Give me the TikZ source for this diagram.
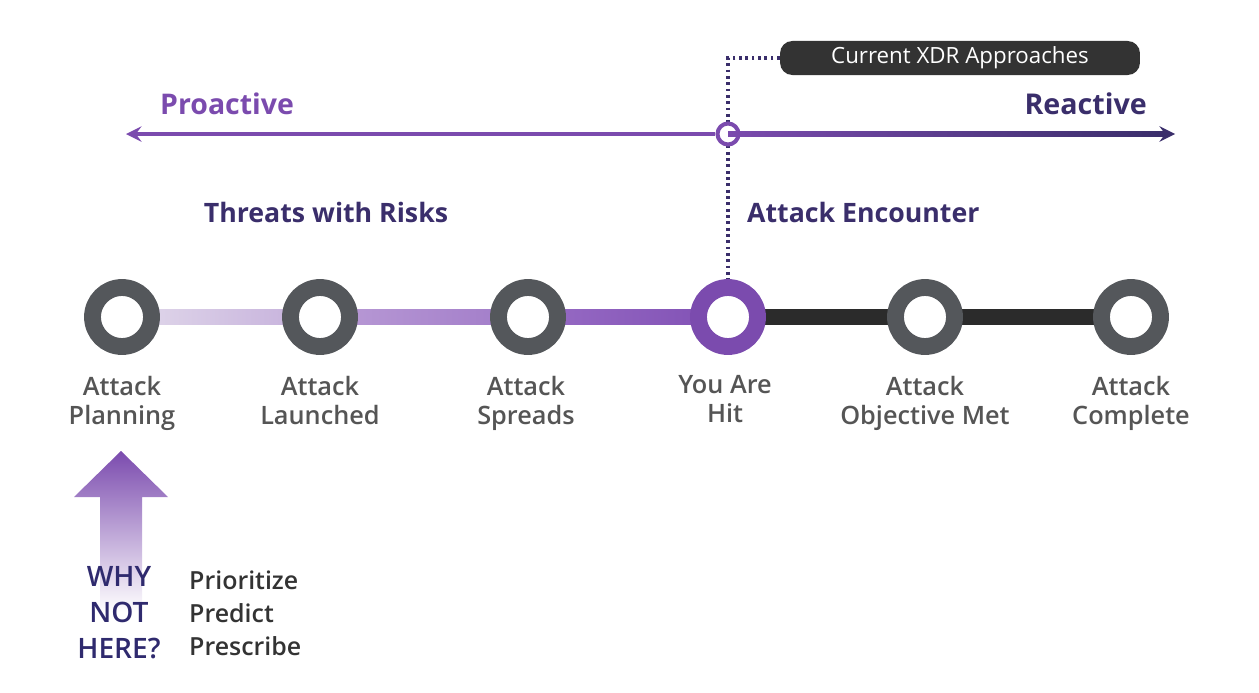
\documentclass[tikz,border=0pt]{standalone}
\usepackage{fontspec}
\setmainfont{Open Sans}
\newfontfamily\semibold{Open Sans Semibold}
\usepackage{tikz}
\usetikzlibrary{arrows,positioning,backgrounds}
\definecolor{dfpurple}{RGB}{123,75,174}
\definecolor{dfnavy}{RGB}{58,46,107}
\definecolor{dfwhy}{RGB}{47,42,110}
\definecolor{dfring}{RGB}{84,87,91}
\definecolor{dflabel}{RGB}{85,85,85}
\definecolor{dflist}{RGB}{51,51,51}
\definecolor{dfdark}{RGB}{43,43,43}
\definecolor{dfpill}{RGB}{51,51,51}
\definecolor{dfbarA}{RGB}{226,218,235}
\definecolor{dfbarB}{RGB}{196,174,219}
\definecolor{dfbarC}{RGB}{186,156,214}
\definecolor{dfbarD}{RGB}{160,122,200}
\definecolor{dfbarE}{RGB}{152,108,197}
\definecolor{dfbarF}{RGB}{128,80,180}
\tikzstyle{ring} = [circle, minimum size=1.18cm, line width=9.6pt, draw=dfring, fill=white, inner sep=0pt]
\tikzstyle{hub} = [circle, minimum size=0.42cm, line width=2.3pt, draw=dfpurple, fill=white, inner sep=0pt]
\tikzstyle{axis} = [line width=2.8pt, >=stealth]
\tikzstyle{steptext} = [align=center, anchor=north, text=dflabel, font=\semibold\fontsize{14.4}{16.4}\selectfont]
\tikzstyle{heading} = [font=\bfseries\fontsize{15.2}{18}\selectfont]
\tikzstyle{pill} = [rectangle, rounded corners=7pt, minimum width=7.2cm, minimum height=0.68cm, fill=dfpill, text=white, font=\fontsize{12.7}{15}\selectfont]
\tikzstyle{xdrlink} = [line width=1.8pt, dfnavy, dash pattern=on 1.6pt off 2pt]

\begin{document}
\begin{tikzpicture}[x=0.02cm, y=-0.02cm]
\useasboundingbox (0,0) rectangle (1259,693);

% Proactive / reactive axis
\node[hub] (now) at (728,134) {};
\coordinate (past) at (126,134);
\coordinate (future) at (1175,134);
\draw[axis, dfpurple, <-] (past) -- (now.west);
\shade[left color=dfpurple, right color=dfnavy] ([yshift=1.4pt]now.center) rectangle ([yshift=-1.4pt,xshift=-6pt]future);
\draw[axis, dfnavy, ->] ([xshift=-8pt]future) -- (future);
\node[heading, text=dfpurple, anchor=west, font=\bfseries\fontsize{16.2}{19}\selectfont] (proactive) at (154,104) {Proactive};
\node[heading, text=dfnavy, anchor=east, font=\bfseries\fontsize{16.3}{19}\selectfont] (reactive) at (1153,104) {Reactive};

% Current XDR label
\node[pill] (xdr) at (960,58) {Current XDR Approaches};

% Headings
\node[heading, text=dfnavy] (threats) at (326,212) {Threats with Risks};
\node[heading, text=dfnavy, anchor=west] (encounter) at (741,212) {Attack Encounter};

% Attack stages
\node[ring] (plan) at (122,317) {};
\node[ring] (launch) at (320,317) {};
\node[ring] (spread) at (528,317) {};
\node[ring, draw=dfpurple] (hit) at (728,317) {};
\node[ring] (objective) at (925,317) {};
\node[ring] (complete) at (1131,317) {};

\node[steptext] (planlbl) at (122,370) {Attack\\Planning};
\node[steptext] (launchlbl) at (320,370) {Attack\\Launched};
\node[steptext] (spreadlbl) at (526,370) {Attack\\Spreads};
\node[steptext] (hitlbl) at (725,369) {You Are\\Hit};
\node[steptext] (objectivelbl) at (925,370) {Attack\\Objective Met};
\node[steptext] (completelbl) at (1131,370) {Attack\\Complete};

% Bars and dotted link behind the rings
\begin{scope}[on background layer]
\shade[left color=dfbarA, right color=dfbarB] ([yshift=4.5pt]plan.center) rectangle ([yshift=-4.5pt]launch.center);
\shade[left color=dfbarC, right color=dfbarD] ([yshift=4.5pt]launch.center) rectangle ([yshift=-4.5pt]spread.center);
\shade[left color=dfbarE, right color=dfbarF] ([yshift=4.5pt]spread.center) rectangle ([yshift=-4.5pt]hit.center);
\fill[dfdark] ([yshift=4.5pt]hit.center) rectangle ([yshift=-4.5pt]complete.center);
\draw[xdrlink] (xdr.west) -| (hit.north);
\end{scope}

% Why not here
\shade[top color=dfpurple, bottom color=white] (121,451) -- (168,497) -- (142,497) -- (142,612) -- (100,612) -- (100,497) -- (74,497) -- cycle;
\node[align=center, text=dfwhy, font=\semibold\fontsize{16}{20.4}\selectfont] (why) at (119,613) {WHY\\NOT\\HERE?};
\node[align=left, anchor=west, text=dflist, font=\semibold\fontsize{14.2}{18.7}\selectfont] (ppp) at (183,613) {Prioritize\\Predict\\Prescribe};
\end{tikzpicture}
\end{document}
